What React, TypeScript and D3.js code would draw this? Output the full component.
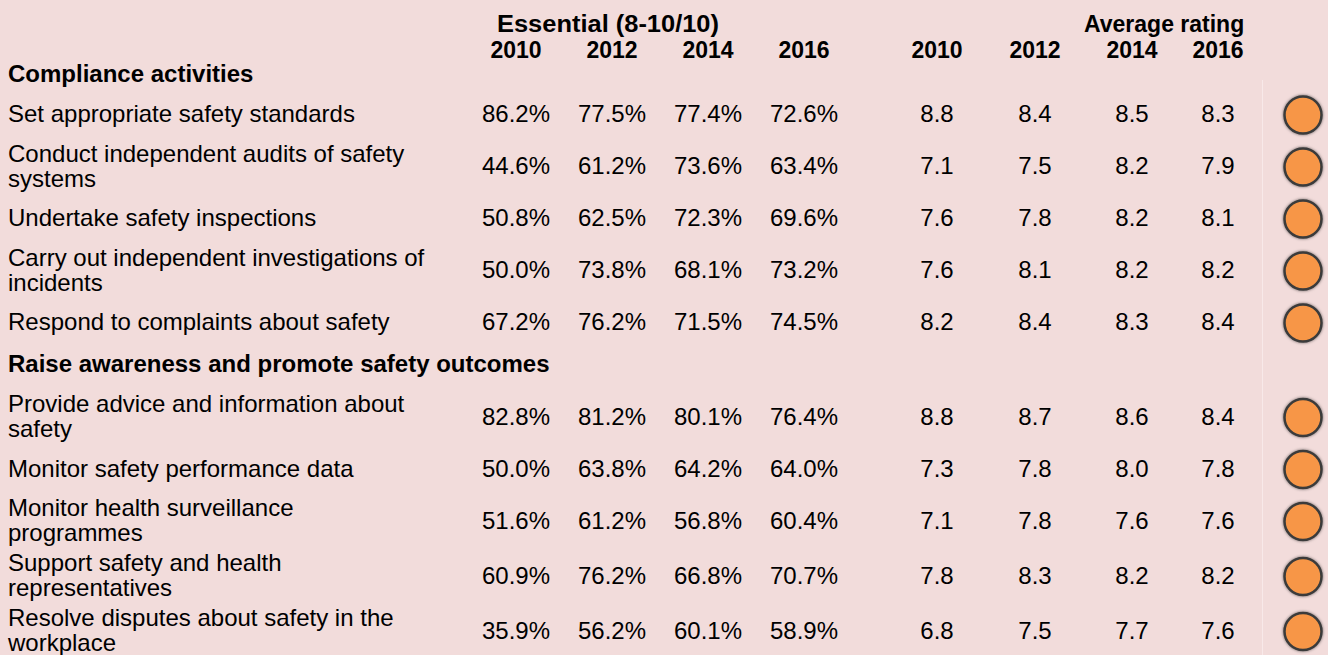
import * as d3 from "d3";

// table content
const sections = ["Compliance activities", "Raise awareness and promote safety outcomes"];
const sectionOf = [0, 0, 0, 0, 0, 1, 1, 1, 1, 1];
const activities = [
  ["Set appropriate safety standards"],
  ["Conduct independent audits of safety", "systems"],
  ["Undertake safety inspections"],
  ["Carry out independent investigations of", "incidents"],
  ["Respond to complaints about safety"],
  ["Provide advice and information about", "safety"],
  ["Monitor safety performance data"],
  ["Monitor health surveillance", "programmes"],
  ["Support safety and health", "representatives"],
  ["Resolve disputes about safety in the", "workplace"],
];
const years = ["2010", "2012", "2014", "2016"];
const essential2010 = [86.2, 44.6, 50.8, 50.0, 67.2, 82.8, 50.0, 51.6, 60.9, 35.9];
const essential2012 = [77.5, 61.2, 62.5, 73.8, 76.2, 81.2, 63.8, 61.2, 76.2, 56.2];
const essential2014 = [77.4, 73.6, 72.3, 68.1, 71.5, 80.1, 64.2, 56.8, 66.8, 60.1];
const essential2016 = [72.6, 63.4, 69.6, 73.2, 74.5, 76.4, 64.0, 60.4, 70.7, 58.9];
const rating2010 = [8.8, 7.1, 7.6, 7.6, 8.2, 8.8, 7.3, 7.1, 7.8, 6.8];
const rating2012 = [8.4, 7.5, 7.8, 8.1, 8.4, 8.7, 7.8, 7.8, 8.3, 7.5];
const rating2014 = [8.5, 8.2, 8.2, 8.2, 8.3, 8.6, 8.0, 7.6, 8.2, 7.7];
const rating2016 = [8.3, 7.9, 8.1, 8.2, 8.4, 8.4, 7.8, 7.6, 8.2, 7.6];

const essential = [essential2010, essential2012, essential2014, essential2016];
const ratings = [rating2010, rating2012, rating2014, rating2016];

const W = 1328;
const H = 655;
const FONT = "'Liberation Sans', Arial, Helvetica, sans-serif";

export default function App() {
  // column positions
  const xPct = d3.scalePoint<string>().domain(years).range([516, 804]);
  const xRating = d3.scaleOrdinal<string, number>().domain(years).range([937, 1035, 1132, 1218]);
  const fmt = d3.format(".1f");

  // vertical flow: section headers and activity rows (y = value baseline)
  type Item = { kind: "section" | "row"; idx: number; lines: string[]; y: number };
  const items: Item[] = [];
  const lineH = 25;
  const rowH = (n: number) => (n > 1 ? 55 : 49);
  let y = 82;
  let prevLines = 0; // 0 means the previous item was a section header
  activities.forEach((lines, i) => {
    if (i === 0 || sectionOf[i] !== sectionOf[i - 1]) {
      if (prevLines > 0) y += 42;
      items.push({ kind: "section", idx: sectionOf[i], lines: [sections[sectionOf[i]]], y });
      prevLines = 0;
    }
    y += prevLines === 0 ? 40 + (lineH * (lines.length - 1)) / 2 : (rowH(prevLines) + rowH(lines.length)) / 2;
    items.push({ kind: "row", idx: i, lines, y });
    prevLines = lines.length;
  });

  return (
    <svg
      width={W}
      height={H}
      style={{ position: "absolute", left: 0, top: 0, fontFamily: FONT }}
    >
      <defs>
        <filter id="glow" x="-50%" y="-50%" width="200%" height="200%">
          <feGaussianBlur in="SourceAlpha" stdDeviation="1.6" result="b" />
          <feFlood floodColor="#000" floodOpacity="0.55" />
          <feComposite in2="b" operator="in" result="s" />
          <feMerge>
            <feMergeNode in="s" />
            <feMergeNode in="SourceGraphic" />
          </feMerge>
        </filter>
      </defs>
      <rect width={W} height={H} fill="#f2dcdb" />

      {/* faint cell border before the indicator column */}
      <line x1={1262.5} x2={1262.5} y1={80} y2={H} stroke="#f8e9e9" strokeWidth={1} />

      {/* group headers */}
      <g fontWeight="bold" fontSize={23} fill="#000">
        <text x={497} y={32} textLength={222} lengthAdjust="spacingAndGlyphs">
          Essential (8-10/10)
        </text>
        <text x={1084} y={32}>Average rating</text>
        {years.map((yr) => (
          <text key={"p" + yr} x={xPct(yr)} y={58} textAnchor="middle">
            {yr}
          </text>
        ))}
        {years.map((yr) => (
          <text key={"r" + yr} x={xRating(yr)} y={58} textAnchor="middle">
            {yr}
          </text>
        ))}
      </g>

      {items.map((it, k) => {
        if (it.kind === "section") {
          return (
            <text key={k} x={8} y={it.y} fontSize={24} fontWeight="bold" fill="#000">
              {it.lines[0]}
            </text>
          );
        }
        const i = it.idx;
        const top = it.y - (lineH * (it.lines.length - 1)) / 2;
        return (
          <g key={k} fontSize={24} fill="#000">
            {it.lines.map((ln, j) => (
              <text key={j} x={8} y={top + j * lineH}>
                {ln}
              </text>
            ))}
            {years.map((yr, c) => (
              <text key={"e" + yr} x={xPct(yr)} y={it.y} textAnchor="middle">
                {fmt(essential[c][i])}%
              </text>
            ))}
            {years.map((yr, c) => (
              <text key={"a" + yr} x={xRating(yr)} y={it.y} textAnchor="middle">
                {fmt(ratings[c][i])}
              </text>
            ))}
            <circle
              cx={1303}
              cy={it.y - 7}
              r={18.5}
              fill="#f79646"
              stroke="#3a3a3a"
              strokeWidth={2.5}
              filter="url(#glow)"
            />
          </g>
        );
      })}
    </svg>
  );
}
